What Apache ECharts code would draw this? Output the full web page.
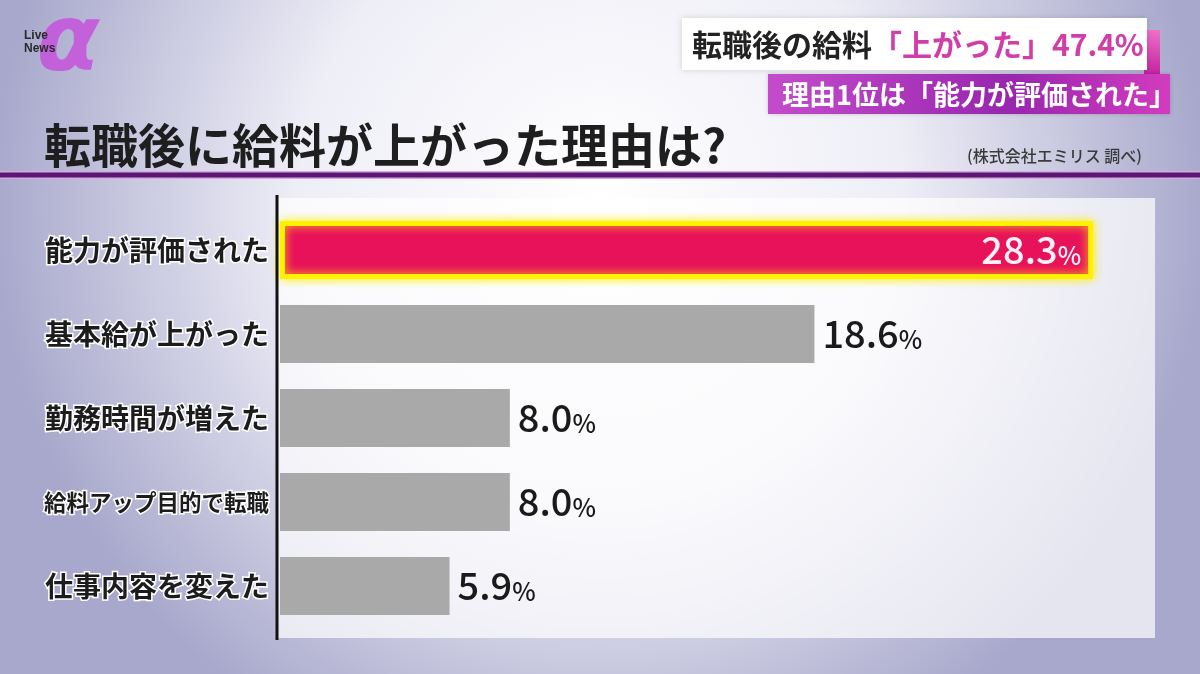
<!DOCTYPE html>
<html>
<head>
<meta charset="utf-8">
<script src="https://cdn.jsdelivr.net/npm/echarts@6/dist/echarts.min.js"></script>
<style>
  html, body { margin: 0; padding: 0; }
  #main { width: 1200px; height: 674px; }
</style>
</head>
<body>
<div id="main"></div>
<script>
// 転職後に給料が上がった理由
var reasons = ['能力が評価された', '基本給が上がった', '勤務時間が増えた', '給料アップ目的で転職', '仕事内容を変えた'];
var shares = [28.3, 18.6, 8.0, 8.0, 5.9];
var topIndex = 0; // 強調する棒

var JP = '"Noto Sans CJK JP", "Noto Sans", sans-serif';

var chart = echarts.init(document.getElementById('main'));

var barData = shares.map(function (v, i) {
  if (i === topIndex) {
    return {
      value: v,
      itemStyle: {
        color: '#e8125a',
        borderColor: '#fff200',
        borderWidth: 5,
        shadowColor: 'rgba(255,240,0,0.9)',
        shadowBlur: 10
      },
      label: {
        position: 'insideRight',
        distance: 12,
        rich: {
          n: { fontSize: 38, color: '#fff0f6', fontFamily: JP, fontWeight: 500 },
          p: { fontSize: 25, color: '#fff0f6', fontFamily: JP, fontWeight: 500, padding: [10, 0, 0, 0] }
        }
      }
    };
  }
  return { value: v };
});

var labelBase = {
  fontWeight: 'bold',
  fontFamily: JP,
  color: '#1c1c1c',
  textBorderColor: '#ffffff',
  textBorderWidth: 3
};

var option = {
  animation: false,
  grid: { left: 280, right: 58, top: 208, bottom: 46, outerBoundsMode: 'none', containLabel: false },
  xAxis: {
    type: 'value',
    min: 0,
    max: 30,
    show: false
  },
  yAxis: {
    type: 'category',
    data: reasons,
    inverse: true,
    axisLine: { show: false },
    axisTick: { show: false },
    axisLabel: Object.assign({
      margin: 11,
      fontSize: 28,
      formatter: function (v) {
        return v.length > 8 ? '{s|' + v + '}' : v;
      },
      rich: {
        s: Object.assign({ fontSize: 22.5 }, labelBase)
      }
    }, labelBase)
  },
  series: [{
    type: 'bar',
    data: barData,
    barWidth: 58,
    itemStyle: { color: '#a9a9a9' },
    label: {
      show: true,
      position: 'right',
      distance: 8,
      formatter: function (p) { return '{n|' + p.value.toFixed(1) + '}{p|%}'; },
      rich: {
        n: { fontSize: 38, color: '#1a1a1a', fontFamily: JP, fontWeight: 500 },
        p: { fontSize: 25, color: '#1a1a1a', fontFamily: JP, fontWeight: 500, padding: [10, 0, 0, 0] }
      }
    },
    z: 5
  }],
  graphic: [
    // 背景
    {
      type: 'rect', z: -20, silent: true,
      shape: { x: 0, y: 0, width: 1200, height: 674 },
      style: {
        fill: new echarts.graphic.RadialGradient(0.5, 0.3, 0.9, [
          { offset: 0, color: '#ffffff' },
          { offset: 0.5, color: '#eeeef7' },
          { offset: 1, color: '#a8a8cc' }
        ])
      }
    },
    // グラフ面
    {
      type: 'rect', z: -19, silent: true,
      shape: { x: 277, y: 198, width: 878, height: 440 },
      style: { fill: 'rgba(255,255,255,0.7)' }
    },
    // 縦軸線
    {
      type: 'line', z: 10, silent: true,
      shape: { x1: 277, y1: 195, x2: 277, y2: 640 },
      style: { stroke: '#111', lineWidth: 3 }
    },
    // 見出し下の紫線
    {
      type: 'rect', z: 10, silent: true,
      shape: { x: 0, y: 171, width: 1200, height: 8 },
      style: { fill: '#d8a8e0' }
    },
    {
      type: 'rect', z: 11, silent: true,
      shape: { x: 0, y: 172.5, width: 1200, height: 5 },
      style: { fill: '#5a1874' }
    },
    // 見出し
    {
      type: 'text', z: 20, silent: true,
      style: {
        x: 44, y: 145, text: '転職後に給料が上がった理由は?',
        verticalAlign: 'middle',
        font: 'bold 47px ' + JP,
        fill: '#1e1e1e'
      }
    },
    {
      type: 'text', z: 20, silent: true,
      style: {
        x: 1142, y: 156, text: '(株式会社エミリス 調べ)',
        align: 'right', verticalAlign: 'middle',
        font: '500 16px ' + JP,
        fill: '#3a3a3a'
      }
    },
    // ロゴ
    {
      type: 'text', z: 20, silent: true,
      style: {
        x: 68, y: 46, text: 'α',
        align: 'center', verticalAlign: 'middle',
        font: 'oblique bold 92px "DejaVu Sans", sans-serif',
        fill: '#c458dc',
        opacity: 0.9
      }
    },
    {
      type: 'text', z: 21, silent: true,
      style: {
        x: 24, y: 42, text: 'Live\nNews',
        verticalAlign: 'middle', lineHeight: 13,
        font: 'bold 12px "Liberation Sans", sans-serif',
        fill: '#2a2a2a'
      }
    },
    // 右上テロップ
    {
      type: 'rect', z: 18, silent: true,
      shape: { x: 1144, y: 30, width: 16, height: 48 },
      style: {
        fill: new echarts.graphic.LinearGradient(0, 0, 0, 1, [
          { offset: 0, color: '#f070c8' },
          { offset: 1, color: '#c01ca0' }
        ])
      }
    },
    {
      type: 'rect', z: 19, silent: true,
      shape: { x: 682, y: 18, width: 465, height: 52 },
      style: { fill: '#ffffff', shadowColor: 'rgba(0,0,0,0.15)', shadowBlur: 6 }
    },
    {
      type: 'text', z: 20, silent: true,
      style: {
        x: 692, y: 45,
        text: '{a|転職後の給料}{b|「上がった」47.4%}',
        verticalAlign: 'middle',
        rich: {
          a: { font: 'bold 30px ' + JP, fill: '#222222' },
          b: { font: 'bold 30px ' + JP, fill: '#d23ea8' }
        }
      }
    },
    {
      type: 'rect', z: 19, silent: true,
      shape: { x: 768, y: 74, width: 402, height: 40 },
      style: {
        fill: new echarts.graphic.LinearGradient(0, 0, 1, 0, [
          { offset: 0, color: '#c44ccc' },
          { offset: 0.6, color: '#9826ae' },
          { offset: 1, color: '#d23cbe' }
        ]),
        shadowColor: 'rgba(0,0,0,0.2)', shadowBlur: 4
      }
    },
    {
      type: 'text', z: 20, silent: true,
      style: {
        x: 782, y: 95, text: '理由1位は「能力が評価された」',
        verticalAlign: 'middle',
        font: 'bold 27px ' + JP,
        fill: '#ffffff'
      }
    }
  ]
};

chart.setOption(option);
</script>
</body>
</html>
